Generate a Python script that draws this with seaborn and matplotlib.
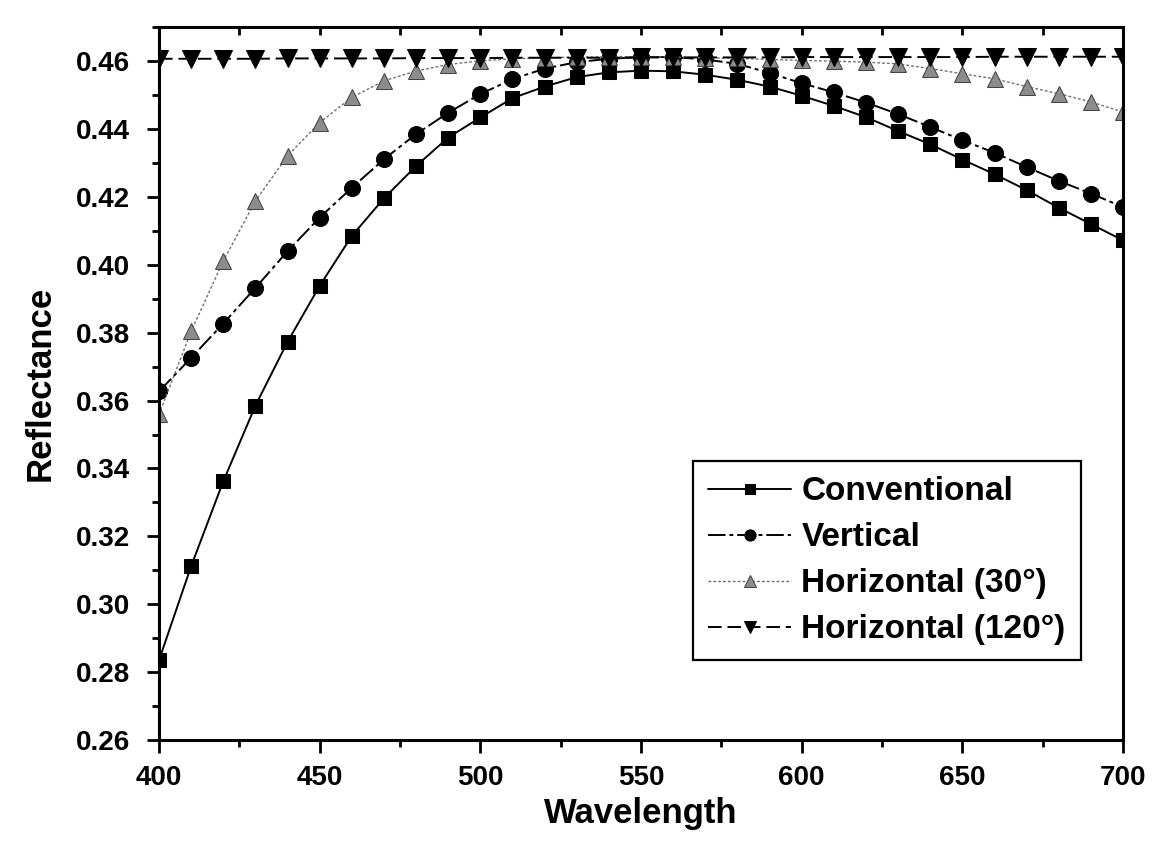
import numpy as np
import pandas as pd
import matplotlib
matplotlib.use("Agg")
import matplotlib.pyplot as plt
from matplotlib.ticker import MultipleLocator
import seaborn as sns

wavelength = [400, 410, 420, 430, 440, 450, 460, 470, 480, 490, 500,
              510, 520, 530, 540, 550, 560, 570, 580, 590, 600,
              610, 620, 630, 640, 650, 660, 670, 680, 690, 700]

conventional = [0.2835, 0.3112, 0.3362, 0.3585, 0.3773, 0.3938, 0.4085, 0.4196, 0.4291, 0.4375, 0.4434,
                0.4491, 0.4525, 0.4553, 0.4567, 0.4572, 0.4570, 0.4560, 0.4545, 0.4525, 0.4498,
                0.4468, 0.4435, 0.4394, 0.4355, 0.4310, 0.4267, 0.4220, 0.4168, 0.4120, 0.4072]

vertical = [0.3627, 0.3726, 0.3827, 0.3932, 0.4040, 0.4139, 0.4227, 0.4311, 0.4385, 0.4448, 0.4503,
            0.4547, 0.4578, 0.4597, 0.4607, 0.4612, 0.4612, 0.4605, 0.4592, 0.4565, 0.4535,
            0.4508, 0.4478, 0.4444, 0.4406, 0.4367, 0.4330, 0.4288, 0.4247, 0.4210, 0.4170]

horizontal_30 = [0.3559, 0.3804, 0.4011, 0.4188, 0.4321, 0.4419, 0.4493, 0.4542, 0.4571, 0.4590, 0.4601,
                 0.4607, 0.4610, 0.4612, 0.4613, 0.4613, 0.4612, 0.4610, 0.4608, 0.4605, 0.4602,
                 0.4600, 0.4597, 0.4592, 0.4578, 0.4563, 0.4548, 0.4525, 0.4504, 0.4480, 0.4450]

horizontal_120 = [0.4607, 0.4607, 0.4607, 0.4607, 0.4608, 0.4608, 0.4608, 0.4608, 0.4609, 0.4609, 0.4609,
                  0.4610, 0.4610, 0.4610, 0.4610, 0.4611, 0.4611, 0.4611, 0.4611, 0.4611, 0.4612,
                  0.4612, 0.4612, 0.4612, 0.4612, 0.4612, 0.4613, 0.4613, 0.4613, 0.4613, 0.4613]

labels = ["Conventional", "Vertical", "Horizontal (30\u00b0)", "Horizontal (120\u00b0)"]

sns.set_style("ticks")
plt.rcParams['font.family'] = ['Liberation Sans', 'DejaVu Sans']
plt.rcParams['font.weight'] = 'bold'
plt.rcParams['axes.labelweight'] = 'bold'
plt.rcParams['text.color'] = 'black'
plt.rcParams['axes.labelcolor'] = 'black'
plt.rcParams['xtick.color'] = 'black'
plt.rcParams['ytick.color'] = 'black'
plt.rcParams['axes.edgecolor'] = 'black'

fig = plt.figure(figsize=(11.76, 8.5), dpi=100)
ax = fig.add_axes([0.1352, 0.1294, 0.8198, 0.8386])

# Conventional: solid line, black squares
sns.lineplot(x=wavelength, y=conventional, ax=ax, color="black", linewidth=1.4,
             marker="s", markersize=10.5, markeredgecolor="black", label=labels[0])
# Vertical: dash-dot line, black circles
sns.lineplot(x=wavelength, y=vertical, ax=ax, color="black", linewidth=1.4,
             marker="o", markersize=11.5, markeredgecolor="black", label=labels[1])
ax.lines[-1].set_dashes([9, 2, 2, 2])
# Horizontal 30: dotted grey line, grey triangles
sns.lineplot(x=wavelength, y=horizontal_30, ax=ax, color="#707070", linewidth=1.0,
             marker="^", markersize=11.5, markerfacecolor="#8c8c8c", markeredgecolor="#444444",
             label=labels[2])
ax.lines[-1].set_dashes([2, 1.5])
# Horizontal 120: dashed line, black down triangles
sns.lineplot(x=wavelength, y=horizontal_120, ax=ax, color="black", linewidth=1.4,
             marker="v", markersize=13, markeredgecolor="black", label=labels[3])
ax.lines[-1].set_dashes([7, 3])

ax.set_xlim(400, 700)
ax.set_ylim(0.26, 0.47)
ax.xaxis.set_major_locator(MultipleLocator(50))
ax.xaxis.set_minor_locator(MultipleLocator(25))
ax.yaxis.set_major_locator(MultipleLocator(0.02))
ax.yaxis.set_minor_locator(MultipleLocator(0.01))
ax.yaxis.set_major_formatter(matplotlib.ticker.FormatStrFormatter('%.2f'))

ax.tick_params(which="major", direction="out", length=9, width=2, labelsize=20)
ax.tick_params(axis="y", which="major", pad=12)
ax.tick_params(axis="x", which="major", pad=9)
ax.tick_params(which="minor", direction="out", length=5, width=2)
ax.tick_params(which="both", top=False, right=False)
for s in ax.spines.values():
    s.set_linewidth(2.2)
    s.set_visible(True)

# small inward ticks on the top edge
top = ax.secondary_xaxis('top')
top.xaxis.set_major_locator(MultipleLocator(50))
top.xaxis.set_minor_locator(MultipleLocator(25))
top.tick_params(which="both", direction="in", length=6, width=2, labeltop=False)

ax.set_xlabel("Wavelength", fontsize=25, labelpad=4)
ax.set_ylabel("Reflectance", fontsize=25, labelpad=14)

leg = ax.legend(loc="lower left", bbox_to_anchor=(0.554, 0.112), fontsize=24,
                frameon=True, fancybox=False, framealpha=1, edgecolor="black",
                handlelength=2.5, handletextpad=0.3, labelspacing=0.45,
                borderpad=0.45, markerscale=0.7, borderaxespad=0)
leg.get_frame().set_linewidth(1.6)

fig.savefig("out.png", dpi=100)
